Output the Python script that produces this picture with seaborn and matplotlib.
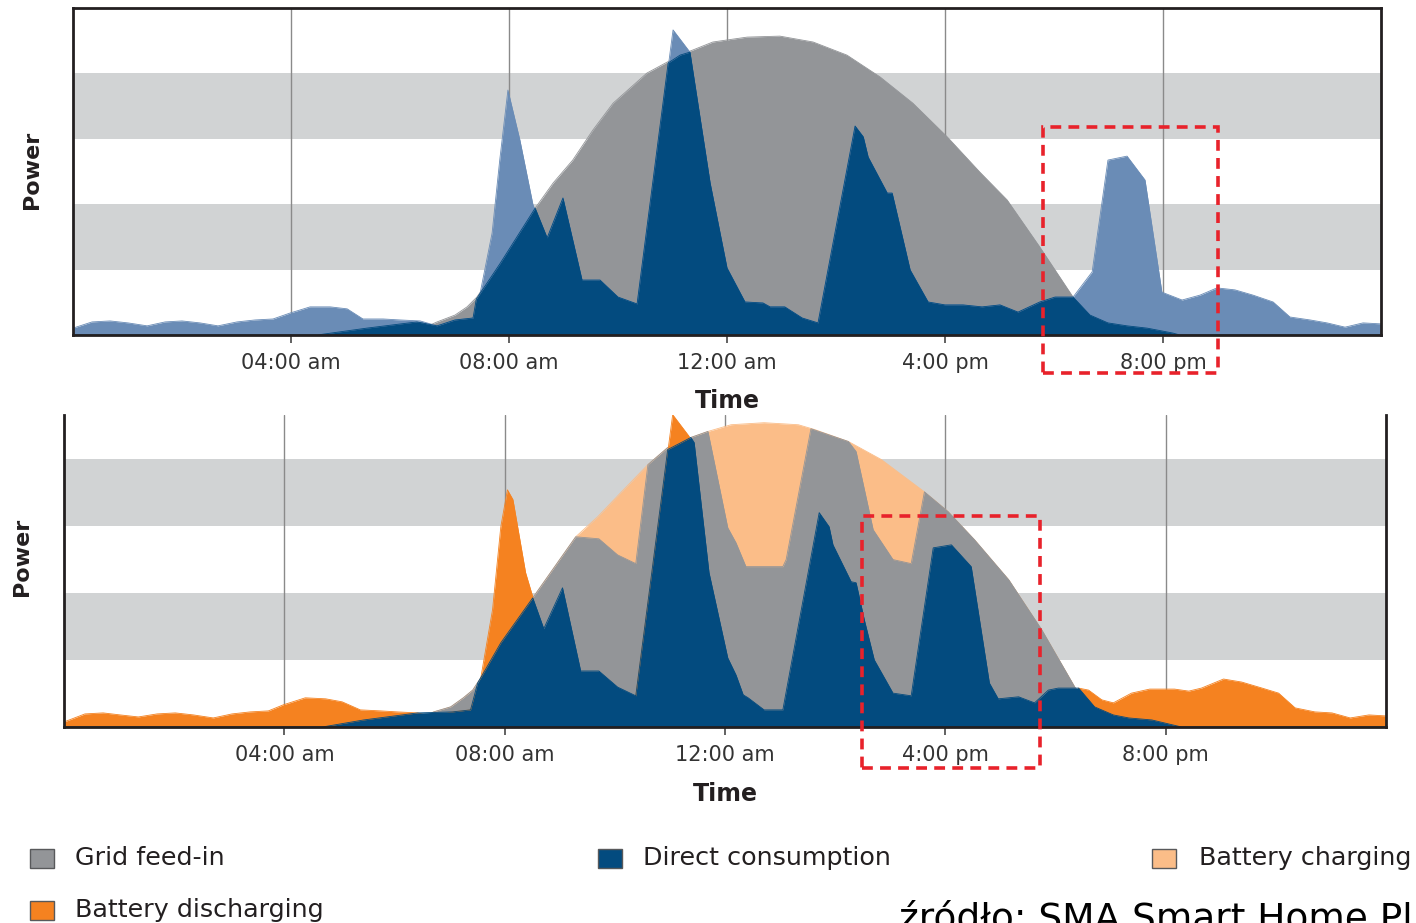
import matplotlib
matplotlib.use("Agg")
import matplotlib.pyplot as plt
from matplotlib.patches import Rectangle
import seaborn as sns

# ---- data (hours 0-24, power in relative units) ----
tick_hours = [4, 8, 12, 16, 20]
tick_labels = ["04:00 am", "08:00 am", "12:00 am", "4:00 pm", "8:00 pm"]

# top panel: without battery
top_pv_h = [0, 6.18, 6.68, 7.01, 7.23, 7.41, 7.83, 8.48, 8.81, 9.17, 9.54, 9.91, 10.53, 11.14, 11.74,
            12.37, 12.97, 13.58, 14.20, 14.81, 15.41, 16.04, 16.64, 17.14, 17.74, 18.35, 18.75, 19.03, 24]
top_pv = [0, 0.3, 4.0, 6.1, 8.6, 11.6, 21.7, 38.8, 46.5, 53.5, 62.7, 70.9, 80.1, 85.6, 89.6,
          91.1, 91.4, 89.6, 85.6, 78.9, 70.9, 60.6, 49.8, 41.3, 26.9, 11.6, 1.5, 0, 0]

top_load_h = [0, 0.35, 0.68, 1.01, 1.36, 1.69, 2.00, 2.33, 2.66, 3.01,
              3.34, 3.67, 3.98, 4.35, 4.72, 5.03, 5.32, 5.69, 6.00, 6.37,
              6.68, 7.01, 7.34, 7.47, 7.69, 7.83, 7.98, 8.20, 8.44, 8.70,
              8.99, 9.34, 9.67, 10.0, 10.35, 11.01, 11.32, 11.69, 12.0, 12.33,
              12.66, 12.79, 13.06, 13.38, 13.67, 14.35, 14.50, 14.59, 14.94, 15.03,
              15.36, 15.69, 16.0, 16.33, 16.68, 17.01, 17.34, 17.74, 18.02, 18.35,
              18.70, 18.99, 19.34, 19.67, 19.98, 20.35, 20.68, 20.99, 21.32, 21.65,
              22.02, 22.33, 22.70, 23.01, 23.34, 23.67, 24]
top_load = [2.1, 4.0, 4.3, 3.7, 2.8, 4.0, 4.3, 3.7, 2.8, 4.0,
            4.6, 4.9, 6.7, 8.6, 8.6, 8.0, 4.9, 4.9, 4.6, 4.3,
            2.8, 4.6, 5.2, 12.8, 31.2, 53.5, 74.9, 59.6, 39.8, 29.7,
            41.9, 16.8, 16.8, 11.6, 9.5, 93.3, 86.5, 46.5, 20.5, 10.1,
            9.8, 8.6, 8.6, 5.2, 3.7, 63.9, 60.6, 54.4, 43.4, 43.4,
            19.9, 10.1, 9.2, 9.2, 8.6, 9.2, 7.0, 10.1, 11.6, 11.6,
            19.3, 53.5, 54.7, 47.4, 13.1, 10.7, 12.2, 14.4, 13.8, 12.2,
            10.1, 5.5, 4.6, 3.7, 2.4, 3.7, 3.4]

top_direct_h = [0, 4.48, 5.39, 6.31, 6.68, 7.01, 7.34, 7.40, 7.83, 8.48,
                8.70, 8.99, 9.34, 9.67, 10.0, 10.35, 10.92, 11.14, 11.32, 11.69,
                12.0, 12.33, 12.66, 12.79, 13.06, 13.38, 13.67, 14.35, 14.50, 14.59,
                14.94, 15.03, 15.36, 15.69, 16.0, 16.33, 16.68, 17.01, 17.34, 17.74,
                18.02, 18.35, 18.66, 18.99, 19.34, 19.71, 20.18, 20.31, 24]
top_direct = [0, 0, 2.1, 4.0, 2.8, 4.6, 5.2, 11.0, 21.7, 38.8,
              29.7, 41.9, 16.8, 16.8, 11.6, 9.5, 83.2, 85.6, 86.5, 46.5,
              20.5, 10.1, 9.8, 8.6, 8.6, 5.2, 3.7, 63.9, 60.6, 54.4,
              43.4, 43.4, 19.9, 10.1, 9.2, 9.2, 8.6, 9.2, 7.0, 10.1,
              11.6, 11.6, 6.1, 3.7, 2.8, 2.1, 0.6, 0, 0]

# bottom panel: with battery and shifted load
bot_pv_h = [0, 6.2, 6.71, 7.02, 7.25, 7.42, 8.51, 9.29, 9.69, 10.11,
            10.6, 10.96, 11.38, 11.69, 12.11, 12.71, 13.33, 13.62, 14.24, 14.84,
            15.62, 16.05, 16.53, 17.15, 17.75, 18.35, 18.65, 18.93, 24]
bot_pv = [0, 0, 4.5, 6.0, 8.7, 11.0, 38.5, 56.7, 62.7, 69.9,
          78.2, 83.3, 86.3, 88.1, 90.1, 90.7, 90.1, 88.7, 85.1, 79.7,
          70.1, 64.2, 55.8, 43.9, 29.0, 11.9, 5.1, 0, 0]

bot_feed_h = [0, 6.2, 6.71, 7.02, 7.25, 7.42, 8.51, 9.29, 9.71,
              10.05, 10.38, 10.6, 10.96, 11.38, 11.69, 12.05, 12.2, 12.38, 13.05,
              13.11, 13.56, 14.24, 14.38, 14.69, 15.05, 15.38, 15.62, 16.05, 16.53,
              17.15, 17.75, 18.35, 18.65, 18.93, 24]
bot_feed = [0, 0, 4.5, 6.0, 8.7, 11.0, 38.5, 56.7, 56.1,
            51.3, 48.7, 78.2, 83.3, 86.3, 88.1, 59.4, 54.9, 47.8, 47.8,
            49.9, 88.9, 85.1, 82.1, 58.8, 49.9, 48.7, 70.1, 64.2, 55.8,
            43.9, 29.0, 11.9, 5.1, 0, 0]

bot_discharge_h = [0, 0.38, 0.71, 1.02, 1.35, 1.69, 2.02, 2.35, 2.71, 3.05,
                   3.38, 3.71, 3.98, 4.38, 4.75, 5.05, 5.38, 5.75, 6.05, 6.42,
                   6.71, 7.05, 7.38, 7.56, 7.78, 7.93, 8.05, 8.15, 8.38, 8.51,
                   8.65, 10.3, 10.38, 11.05, 11.35, 11.5, 18.3, 18.42, 18.6, 18.84,
                   19.05, 19.38, 19.71, 20.16, 20.42, 20.65, 21.05, 21.38, 21.75, 22.05,
                   22.35, 22.71, 23.02, 23.35, 23.69, 24]
bot_discharge = [1.5, 3.9, 4.2, 3.6, 3.0, 3.9, 4.2, 3.6, 2.7, 3.9,
                 4.5, 4.8, 6.6, 8.7, 8.4, 7.5, 5.1, 4.8, 4.5, 4.2,
                 3.0, 4.5, 5.1, 14.0, 35.0, 59.7, 70.7, 67.8, 46.0, 38.8,
                 0, 0, 9.3, 93.1, 86.6, 0, 0, 11.6, 11.0, 8.1,
                 7.2, 10.1, 11.3, 11.3, 10.7, 11.6, 14.3, 13.4, 11.6, 10.1,
                 5.7, 4.5, 4.2, 2.7, 3.6, 3.3]

bot_direct_h = [0, 4.69, 5.44, 6.42, 7.05, 7.38, 7.51, 7.93, 8.51,
                8.71, 9.05, 9.38, 9.71, 10.05, 10.38, 10.96, 11.38, 11.44, 11.71,
                12.05, 12.2, 12.33, 12.42, 12.71, 13.05, 13.71, 13.89, 13.96, 14.29,
                14.38, 14.53, 14.71, 15.05, 15.38, 15.78, 16.11, 16.47, 16.8, 16.96,
                17.33, 17.62, 17.87, 18.05, 18.42, 18.71, 19.05, 19.33, 19.75, 20.29, 24]
bot_direct = [0, 0, 2.1, 4.2, 4.5, 5.1, 13.1, 25.1, 38.5,
              29.3, 41.5, 16.7, 16.7, 11.9, 9.3, 82.7, 86.3, 84.8, 46.0,
              20.6, 15.5, 9.6, 8.7, 5.1, 5.1, 63.9, 59.7, 54.3, 43.3,
              43.0, 31.9, 20.0, 10.1, 9.3, 53.4, 54.3, 47.8, 13.1, 8.4,
              9.0, 7.2, 11.0, 11.6, 11.6, 6.0, 3.6, 2.7, 2.1, 0, 0]

# legend entries
legend_labels = ["Grid feed-in", "Direct consumption", "Battery charging", "Battery discharging"]
legend_keys = ["grey", "dark", "peach", "orange"]

# ---- colours ----
colors = {"band": "#d1d3d4", "grey": "#939598", "dark": "#034b7f", "light": "#6a8cb6",
          "orange": "#f58220", "peach": "#fbbd88", "red": "#e8222b", "text": "#231f20"}

sns.set_theme(style="white")
plt.rcParams["font.family"] = ["DejaVu Sans"]

W, H = 1416, 923
fig = plt.figure(figsize=(W / 100, H / 100), dpi=100)
ax1 = fig.add_axes([73 / W, 1 - 335 / H, 1308 / W, 327 / H])
ax2 = fig.add_axes([64 / W, 1 - 727 / H, 1322 / W, 312 / H])


def area(ax, x, y, color, z):
    sns.lineplot(x=x, y=y, ax=ax, color=color, lw=0.6, estimator=None, zorder=z)
    ax.fill_between(x, y, color=color, lw=0, zorder=z)


def frame(ax, ymax, top_spine):
    ax.set_xlim(0, 24)
    ax.set_ylim(0, ymax)
    for lo, hi in [(20, 40), (60, 80)]:
        ax.axhspan(lo, hi, color=colors["band"], lw=0, zorder=0)
    for h in tick_hours:
        ax.axvline(h, color="#8a8a8a", lw=1, zorder=0.5)
    ax.set_xticks(tick_hours)
    ax.set_xticklabels(tick_labels)
    ax.set_yticks([])
    ax.tick_params(axis="x", direction="out", length=6, width=1.3, color="#555555",
                   pad=7, labelsize=15, labelcolor="#333333", bottom=True)
    for s in ["left", "right", "bottom", "top"]:
        ax.spines[s].set_color(colors["text"])
        ax.spines[s].set_linewidth(2)
        ax.spines[s].set_zorder(10)
    ax.spines["top"].set_visible(top_spine)
    ax.set_xlabel("Time", fontsize=17, fontweight="bold", color=colors["text"])
    ax.set_ylabel("Power", fontsize=16, fontweight="bold", color=colors["text"])


# top panel
frame(ax1, 100, True)
area(ax1, top_pv_h, top_pv, colors["grey"], 1)
area(ax1, top_load_h, top_load, colors["light"], 2)
area(ax1, top_direct_h, top_direct, colors["dark"], 3)
ax1.xaxis.set_label_coords(0.5, -0.165)
ax1.yaxis.set_label_coords(-0.024, 0.505)
ax1.add_patch(Rectangle((17.8, -11.6), 3.21, 75.2, fill=False, ec=colors["red"], lw=2.6,
                        ls=(0, (3, 2)), clip_on=False, zorder=12))

# bottom panel
frame(ax2, 93, False)
area(ax2, bot_pv_h, bot_pv, colors["peach"], 1)
area(ax2, bot_feed_h, bot_feed, colors["grey"], 2)
area(ax2, bot_discharge_h, bot_discharge, colors["orange"], 3)
area(ax2, bot_direct_h, bot_direct, colors["dark"], 4)
ax2.xaxis.set_label_coords(0.5, -0.175)
ax2.yaxis.set_label_coords(-0.024, 0.545)
ax2.add_patch(Rectangle((14.49, -12.2), 3.22, 75.2, fill=False, ec=colors["red"], lw=2.6,
                        ls=(0, (3, 2)), clip_on=False, zorder=12))

# legend (placed by hand to keep the wide column spacing)
legend_pos = [(30, 75, 858), (598, 643, 858), (1152, 1199, 858), (30, 75, 910)]
for label, key, (sx, tx, py) in zip(legend_labels, legend_keys, legend_pos):
    fig.add_artist(Rectangle((sx / W, 1 - (py + 10) / H), 24 / W, 19 / H, facecolor=colors[key],
                             edgecolor="#58595b", lw=1, transform=fig.transFigure))
    fig.text(tx / W, 1 - py / H, label, fontsize=18.3, color=colors["text"], va="center", ha="left")

fig.text(899 / W, 1 - 929 / H, "źródło: SMA Smart Home Pl", fontsize=27,
         color="black", va="baseline", ha="left")

fig.savefig("out.png", dpi=100)
